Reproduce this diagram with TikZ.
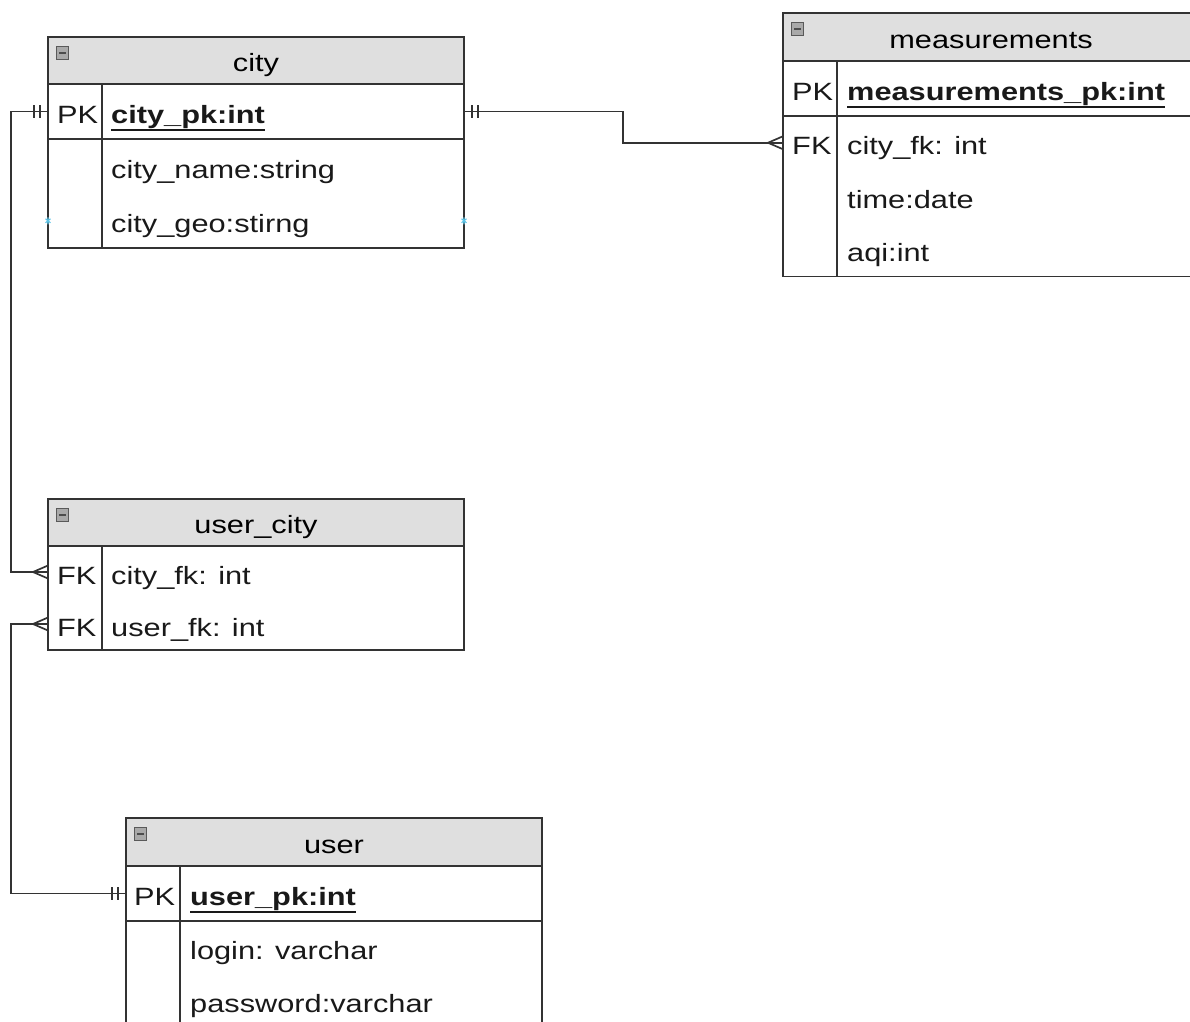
\documentclass[tikz,border=0pt]{standalone}
\usepackage{fontspec}
\setmainfont[FakeStretch=1.23]{Liberation Sans}
\usetikzlibrary{positioning}

\definecolor{framec}{HTML}{333333}
\definecolor{headc}{HTML}{DFDFDF}
\definecolor{iconc}{HTML}{A9A9A9}
\definecolor{hintc}{HTML}{5CC3E6}

\newcommand\keyfield[1]{\setbox0\hbox{\bfseries #1}\rlap{\rule[-7pt]{\wd0}{1.7pt}}\box0}

\tikzset{
  head/.style={draw=framec, fill=headc, line width=1.7pt, anchor=north west,
    minimum width=416pt, minimum height=47pt, inner sep=0pt, outer sep=0pt,
    text height=24pt, text depth=2pt, font=\fontsize{25}{30}\selectfont},
  slot/.style={anchor=north west, minimum width=416pt, inner sep=0pt, outer sep=0pt},
  frame/.style={draw=framec, line width=1.7pt},
  rel/.style={draw=framec, line width=1.7pt},
  key/.style={anchor=base west, inner sep=0pt, text=black!90, font=\fontsize{25}{30}\selectfont},
  icon/.style={draw=gray!70!black, fill=iconc, minimum width=12pt, minimum height=13pt,
    inner sep=0pt, outer sep=0pt,
    path picture={\fill[black!70] ([xshift=2.5pt,yshift=1pt]path picture bounding box.west)
      rectangle ([xshift=-2.5pt,yshift=-1pt]path picture bounding box.east);}},
  hint/.style={draw=hintc, line width=1.1pt},
  one/.pic={\draw[rel] (-8,-6.5) -- (-8,6.5) (-14,-6.5) -- (-14,6.5);},
  many/.pic={\draw[rel] (-15,0) -- (0,-6.5) (-15,0) -- (0,6.5);}
}

\begin{document}
\begin{tikzpicture}[x=1pt, y=-1pt]
  \useasboundingbox (0,0) rectangle (1190,1021);
  \clip (0,0) rectangle (1190,1021);

  % city
  \node[head] (cityhead) at (48,37) {city};
  \node[slot, minimum height=55pt] (cityr1) at (48,84) {};
  \node[slot, minimum height=54.5pt] (cityr2) at (48,139) {};
  \node[slot, minimum height=54.5pt] (cityr3) at (48,193.5) {};
  \draw[frame] (cityhead.south west) rectangle (cityr3.south east);
  \draw[frame] (cityr1.south west) -- (cityr1.south east);
  \draw[frame] ([xshift=54pt]cityr1.north west) -- ([xshift=54pt]cityr3.south west);
  \node[icon] (cityicon) at ([shift={(14,16)}]cityhead.north west) {};
  \node[key] (cityk1) at ([shift={(9,12)}]cityr1.west) {PK};
  \node[key] (cityf1) at ([shift={(63,12)}]cityr1.west) {\keyfield{city\_pk:int}};
  \node[key] (cityf2) at ([shift={(63,12)}]cityr2.west) {city\_name:string};
  \node[key] (cityf3) at ([shift={(63,12)}]cityr3.west) {city\_geo:stirng};

  % measurements
  \node[head, minimum height=48pt] (meashead) at (783,13) {measurements};
  \node[slot, minimum height=55pt] (measr1) at (783,61) {};
  \node[slot, minimum height=53.5pt] (measr2) at (783,116) {};
  \node[slot, minimum height=53.5pt] (measr3) at (783,169.5) {};
  \node[slot, minimum height=53.5pt] (measr4) at (783,223) {};
  \draw[frame] (meashead.south west) rectangle (measr4.south east);
  \draw[frame] (measr1.south west) -- (measr1.south east);
  \draw[frame] ([xshift=54pt]measr1.north west) -- ([xshift=54pt]measr4.south west);
  \node[icon] (measicon) at ([shift={(14,16)}]meashead.north west) {};
  \node[key] (meask1) at ([shift={(9,12)}]measr1.west) {PK};
  \node[key] (meask2) at ([shift={(9,12)}]measr2.west) {FK};
  \node[key] (measf1) at ([shift={(64,12)}]measr1.west) {\keyfield{measurements\_pk:int}};
  \node[key] (measf2) at ([shift={(64,12)}]measr2.west) {city\_fk: int};
  \node[key] (measf3) at ([shift={(64,12)}]measr3.west) {time:date};
  \node[key] (measf4) at ([shift={(64,12)}]measr4.west) {aqi:int};

  % user_city
  \node[head] (uchead) at (48,499) {user\_city};
  \node[slot, minimum height=52pt] (ucr1) at (48,546) {};
  \node[slot, minimum height=52pt] (ucr2) at (48,598) {};
  \draw[frame] (uchead.south west) rectangle (ucr2.south east);
  \draw[frame] ([xshift=54pt]ucr1.north west) -- ([xshift=54pt]ucr2.south west);
  \node[icon] (ucicon) at ([shift={(14,16)}]uchead.north west) {};
  \node[key] (uck1) at ([shift={(9,12)}]ucr1.west) {FK};
  \node[key] (uck2) at ([shift={(9,12)}]ucr2.west) {FK};
  \node[key] (ucf1) at ([shift={(63,12)}]ucr1.west) {city\_fk: int};
  \node[key] (ucf2) at ([shift={(63,12)}]ucr2.west) {user\_fk: int};

  % user
  \node[head, minimum height=48pt] (userhead) at (126,818) {user};
  \node[slot, minimum height=55pt] (userr1) at (126,866) {};
  \node[slot, minimum height=53pt] (userr2) at (126,921) {};
  \node[slot, minimum height=53pt] (userr3) at (126,974) {};
  \draw[frame] (userhead.south west) rectangle (userr3.south east);
  \draw[frame] (userr1.south west) -- (userr1.south east);
  \draw[frame] ([xshift=54pt]userr1.north west) -- ([xshift=54pt]userr3.south west);
  \node[icon] (usericon) at ([shift={(14,16)}]userhead.north west) {};
  \node[key] (userk1) at ([shift={(8,12)}]userr1.west) {PK};
  \node[key] (userf1) at ([shift={(64,12)}]userr1.west) {\keyfield{user\_pk:int}};
  \node[key] (userf2) at ([shift={(64,12)}]userr2.west) {login: varchar};
  \node[key] (userf3) at ([shift={(64,12)}]userr3.west) {password:varchar};

  % relations
  \draw[rel] (cityr1.west) -- ++(-37,0) |- (ucr1.west);
  \draw[rel] (ucr2.west) -- ++(-37,0) |- (userr1.west);
  \draw[rel] (cityr1.east) -- ++(159,0) |- (measr2.west);
  \pic at (cityr1.west) {one};
  \pic[xscale=-1] at (cityr1.east) {one};
  \pic at (userr1.west) {one};
  \pic at (ucr1.west) {many};
  \pic at (ucr2.west) {many};
  \pic at (measr2.west) {many};

  % connection hints
  \draw[hint] (cityr3.west) +(0,-3.5) -- +(0,3.5) +(-2.5,-2) -- +(2.5,2) +(-2.5,2) -- +(2.5,-2);
  \draw[hint] (cityr3.east) +(0,-3.5) -- +(0,3.5) +(-2.5,-2) -- +(2.5,2) +(-2.5,2) -- +(2.5,-2);
\end{tikzpicture}
\end{document}
